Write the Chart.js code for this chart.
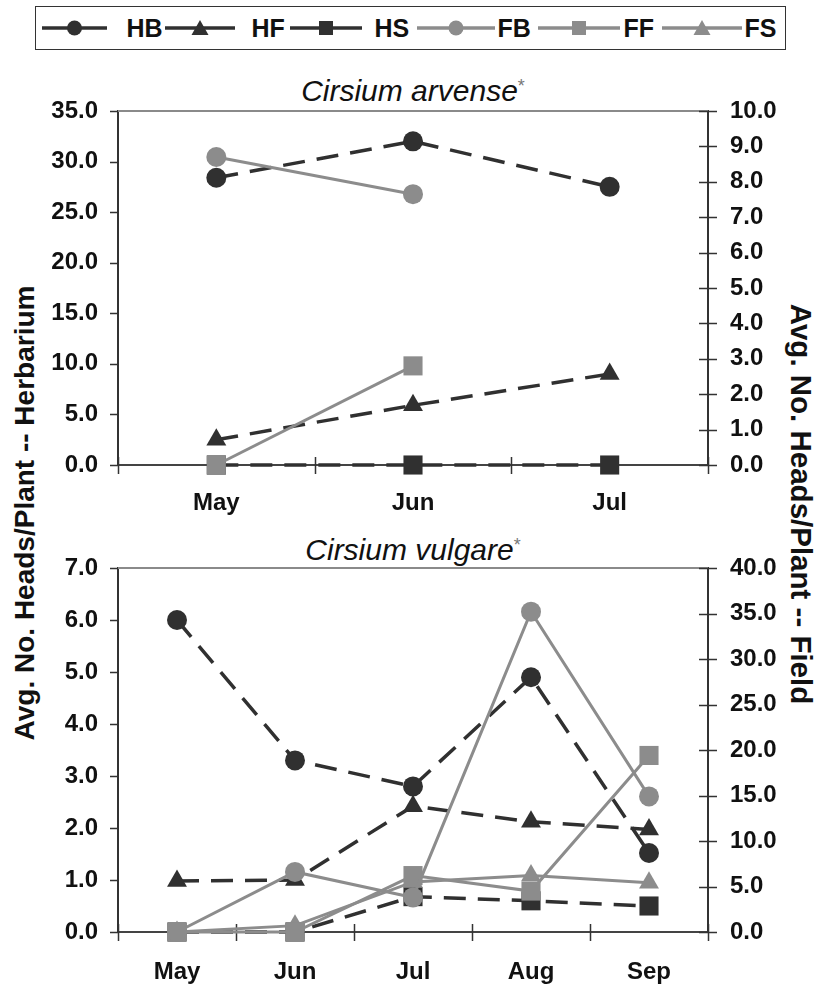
<!DOCTYPE html>
<html>
<head>
<meta charset="utf-8">
<script src="https://cdn.jsdelivr.net/npm/chart.js@4.4.1/dist/chart.umd.min.js"></script>
<style>
  body { margin: 0; background: #fff; width: 820px; height: 991px; position: relative; overflow: hidden;
         font-family: "Liberation Sans", Arial, sans-serif; color: #111; }
  #legend { position: absolute; left: 35px; top: 6px; width: 749px; height: 42px; border: 1.5px solid #333; }
  #legend .sym { position: absolute; top: 0; }
  #legend .lab { position: absolute; top: 0; height: 42px; line-height: 42px; font-weight: bold; font-size: 25px; }
  .ptitle { position: absolute; left: 118px; width: 590px; text-align: center; font-size: 30px;
            font-style: italic; line-height: 36px; }
  .ptitle span { font-style: normal; font-size: 18px; color: #777; vertical-align: 9px; }
  .ytitle { position: absolute; font-weight: bold; font-size: 28px; white-space: nowrap; }
  canvas { position: absolute; left: 0; }
</style>
</head>
<body>
<div id="legend"></div>
<div class="ptitle" style="top:68px">Cirsium arvense<span>*</span></div>
<div class="ptitle" style="top:527px">Cirsium vulgare<span>*</span></div>
<div class="ytitle" style="left:25px;top:513px;transform:translate(-50%,-50%) rotate(-90deg)">Avg. No. Heads/Plant -- Herbarium</div>
<div class="ytitle" style="left:801px;top:504px;font-size:29.5px;transform:translate(-50%,-50%) rotate(90deg)">Avg. No. Heads/Plant -- Field</div>
<canvas id="arvense" width="820" height="470" style="top:60px"></canvas>
<canvas id="vulgare" width="820" height="461" style="top:530px"></canvas>
<script>
// --- Data ---
// H* series read on the left (herbarium) axis, F* series on the right (field) axis
const arvMonths = ['May', 'Jun', 'Jul'];
const arvHB = [28.4, 32.0, 27.5];
const arvHF = [2.5, 5.9, 9.0];
const arvHS = [0, 0, 0];
const arvFB = [8.7, 7.65, null];
const arvFF = [0, 2.8, null];
const arvFS = [null, null, null];

const vulMonths = ['May', 'Jun', 'Jul', 'Aug', 'Sep'];
const vulHB = [6.0, 3.3, 2.8, 4.9, 1.52];
const vulHF = [0.98, 1.0, 2.42, 2.12, 1.97];
const vulHS = [0, 0, 0.68, 0.6, 0.5];
const vulFB = [0, 6.6, 3.8, 35.2, 14.9];
const vulFF = [0, 0, 6.2, 4.5, 19.4];
const vulFS = [0, 0.7, 5.5, 6.2, 5.4];

const seriesNames = ['HB', 'HF', 'HS', 'FB', 'FF', 'FS'];

// --- Styles ---
const DARK = '#303030', GRAY = '#8c8c8c';
const FONT = '"Liberation Sans", Arial, sans-serif';
const styles = {
    HB: { color: DARK, shape: 'circle', dash: [22, 12], axis: 'yL' },
    HF: { color: DARK, shape: 'triangle', dash: [22, 12], axis: 'yL' },
    HS: { color: DARK, shape: 'rect', dash: [22, 12], axis: 'yL' },
    FB: { color: GRAY, shape: 'circle', dash: [], axis: 'yR' },
    FF: { color: GRAY, shape: 'rect', dash: [], axis: 'yR' },
    FS: { color: GRAY, shape: 'triangle', dash: [], axis: 'yR' },
};
const markerRadius = { circle: 10, rect: 13.5, triangle: 11.5 };

// --- Legend (HTML + svg symbols) ---
const legendPos = { // symbol left, symbol width, label left (page x)
    HB: [42, 65, 127], HF: [165, 70, 252], HS: [290, 72, 375],
    FB: [417, 78, 498], FF: [538, 82, 624], FS: [662, 80, 745],
};
function symbolSvg(name, w) {
    const s = styles[name], c = s.color, m = w / 2, y = 21;
    let mark;
    if (s.shape === 'circle') mark = `<circle cx="${m}" cy="${y}" r="7.5" fill="${c}"/>`;
    else if (s.shape === 'rect') mark = `<rect x="${m - 7}" y="${y - 7}" width="14" height="14" fill="${c}"/>`;
    else mark = `<polygon points="${m},${y - 8} ${m + 8.5},${y + 7} ${m - 8.5},${y + 7}" fill="${c}"/>`;
    return `<svg width="${w}" height="42"><line x1="0" y1="${y}" x2="${w}" y2="${y}" stroke="${c}" stroke-width="3.5"/>${mark}</svg>`;
}
const legend = document.getElementById('legend');
seriesNames.forEach(n => {
    const [sx, sw, lx] = legendPos[n];
    const sym = document.createElement('div');
    sym.className = 'sym';
    sym.style.left = (sx - 36.5) + 'px';
    sym.innerHTML = symbolSvg(n, sw);
    legend.appendChild(sym);
    const lab = document.createElement('div');
    lab.className = 'lab';
    lab.style.left = (lx - 36.5) + 'px';
    lab.textContent = n;
    legend.appendChild(lab);
});

// --- Axis decorations: top border, crossing tick marks ---
const frame = {
    id: 'frame',
    beforeDatasetsDraw(chart) {
        const { ctx, chartArea: a, scales } = chart;
        ctx.save();
        ctx.lineWidth = 2;
        ctx.strokeStyle = '#8a8a8a';
        ctx.beginPath();
        ctx.moveTo(a.left, a.top); ctx.lineTo(a.right, a.top);
        ctx.stroke();
        ctx.strokeStyle = '#333';
        ctx.lineWidth = 1.5;
        ctx.beginPath();
        scales.yL.ticks.forEach(t => {
            const y = Math.round(scales.yL.getPixelForValue(t.value)) + 0.5;
            ctx.moveTo(a.left - 8, y); ctx.lineTo(a.left, y);
        });
        scales.yR.ticks.forEach(t => {
            const y = Math.round(scales.yR.getPixelForValue(t.value)) + 0.5;
            ctx.moveTo(a.right - 9, y); ctx.lineTo(a.right + 9, y);
        });
        const xs = scales.x, n = xs.getLabels().length;
        for (let i = 0; i <= n; i++) {
            const x = Math.round(xs.getPixelForValue(i - 0.5)) + 0.5;
            ctx.moveTo(x, a.bottom - 8); ctx.lineTo(x, a.bottom + 9);
        }
        ctx.stroke();
        ctx.restore();
    }
};

function makeDatasets(values) {
    return seriesNames.map((n, i) => {
        const s = styles[n];
        return {
            label: n,
            data: values[i],
            yAxisID: s.axis,
            borderColor: s.color,
            backgroundColor: s.color,
            borderWidth: s.dash.length ? 3.5 : 3,
            borderDash: s.dash,
            pointStyle: s.shape,
            pointRadius: markerRadius[s.shape],
            pointBorderWidth: 0,
            pointBackgroundColor: s.color,
            tension: 0,
            clip: false,
            order: s.axis === 'yR' ? 0 : 1, // field series on top
        };
    });
}

function makeChart(id, months, values, leftMax, leftStep, rightMax, rightStep, padTop, xHeight, xPad) {
    const tickFont = { family: FONT, size: 24, weight: 'bold' };
    return new Chart(document.getElementById(id), {
        type: 'line',
        data: { labels: months, datasets: makeDatasets(values) },
        options: {
            responsive: false,
            animation: false,
            layout: { padding: { top: padTop, left: 0, right: 0, bottom: 0 } },
            plugins: { legend: { display: false }, tooltip: { enabled: false } },
            scales: {
                x: {
                    offset: true,
                    grid: { display: false, drawTicks: false, offset: true },
                    border: { display: true, color: '#444', width: 2 },
                    ticks: { font: tickFont, color: '#111', padding: xPad },
                    afterFit: s => { s.height = xHeight; },
                },
                yL: {
                    position: 'left', min: 0, max: leftMax,
                    grid: { display: false, drawTicks: false },
                    border: { display: true, color: '#333', width: 2 },
                    ticks: { stepSize: leftStep, font: tickFont, color: '#111', padding: 20,
                             callback: v => v.toFixed(1) },
                    afterFit: s => { s.width = 118; },
                },
                yR: {
                    position: 'right', min: 0, max: rightMax,
                    grid: { display: false, drawTicks: false },
                    border: { display: true, color: '#333', width: 2 },
                    ticks: { stepSize: rightStep, font: tickFont, color: '#111', padding: 22,
                             callback: v => v.toFixed(1) },
                    afterFit: s => { s.width = 112; },
                },
            },
        },
        plugins: [frame],
    });
}

makeChart('arvense', arvMonths, [arvHB, arvHF, arvHS, arvFB, arvFF, arvFS], 35, 5, 10, 1, 51, 65, 24);
makeChart('vulgare', vulMonths, [vulHB, vulHF, vulHS, vulFB, vulFF, vulFS], 7, 1, 40, 5, 38, 59, 26);
</script>
</body>
</html>
